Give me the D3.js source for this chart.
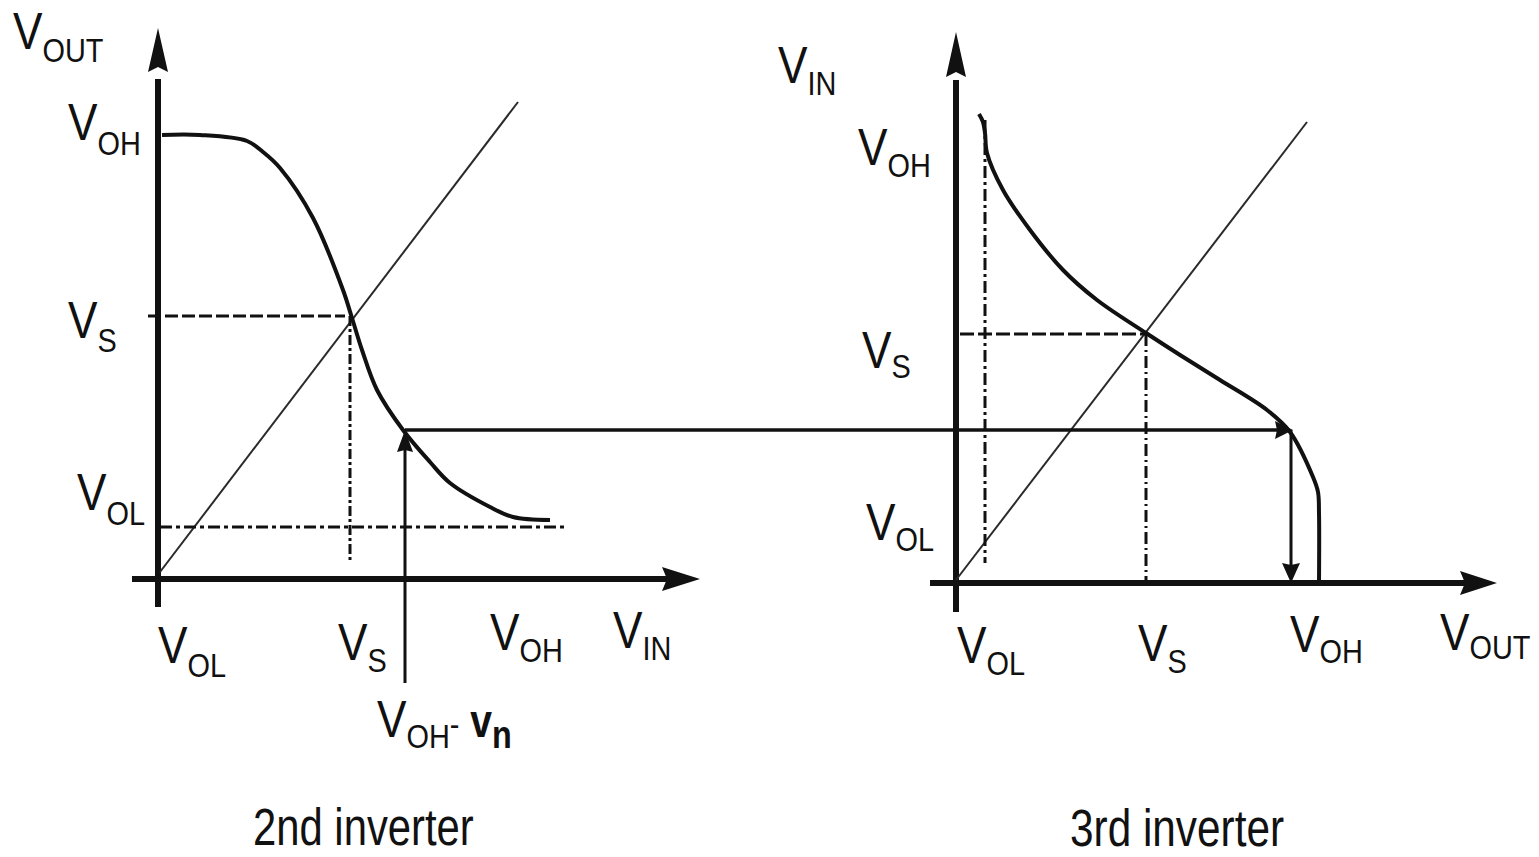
<!DOCTYPE html>
<html><head><meta charset="utf-8">
<script src="https://cdn.jsdelivr.net/npm/d3@7"></script>
<style>html,body{margin:0;background:#fff}svg{display:block}</style>
</head><body>
<svg id="c" width="1539" height="857"></svg>
<script>
// ---------- data (arbitrary voltage units) ----------
// 2nd inverter transfer characteristic: Vin -> Vout
const inv2Vin  = [0.04,0.42,0.89,1.05,1.22,1.55,1.85,1.94,2.04,2.19,2.45,2.72,2.92,3.32,3.55,3.92];
const inv2Vout = [4.44,4.44,4.38,4.27,4.11,3.61,2.89,2.61,2.29,1.89,1.49,1.17,0.96,0.72,0.62,0.59];
// 3rd inverter characteristic, plotted with swapped axes (Vout across, Vin up)
const inv3Vout = [0.23,0.27,0.29,0.31,0.47,0.74,1.07,1.41,1.90,2.24,2.64,3.11,3.34,3.57,3.62,3.63,3.63];
const inv3Vin  = [4.69,4.61,4.50,4.30,3.93,3.53,3.13,2.83,2.50,2.28,2.03,1.73,1.51,1.06,0.91,0.70,0.00];

// unity-gain lines (start, end) for each panel
const unityL = [[0.02,0.07],[3.60,4.77]];
const unityR = [[0.00,0.03],[3.51,4.61]];

// switching points and logic levels
const vsL = [1.92, 2.63];      // 2nd inverter: VS (in, out)
const volL = 0.52;             // 2nd inverter VOL level
const vnPoint = [2.47, 1.49];  // input VOH - vn and its output
const vsR = [1.90, 2.49];      // 3rd inverter: VS (out, in)
const volR = 0.29;             // 3rd inverter VOL output
const vohOutR = 3.35;          // resulting 3rd inverter output

// tick label names and positions along each axis
const leftXTicks  = ['OL','S','OH','IN'];
const leftXVals   = [0, 1.80, 3.32, 4.55];
const leftYTicks  = ['OUT','OH','S','OL'];
const leftYVals   = [5.30, 4.39, 2.41, 0.69];
const rightXTicks = ['OL','S','OH','OUT'];
const rightXVals  = [0.01, 1.82, 3.34, 4.84];
const rightYTicks = ['IN','OH','S','OL'];
const rightYVals  = [5.00, 4.18, 2.15, 0.43];
const titles = ['2nd inverter','3rd inverter'];

// ---------- scales ----------
const xL = d3.scaleLinear().domain([0, 5.4]).range([158, 698]);
const yL = d3.scaleLinear().domain([0, 5.5]).range([579, 29]);
const xR = d3.scaleLinear().domain([0, 5.4]).range([956, 1496]);
const yR = d3.scaleLinear().domain([0, 5.5]).range([583, 33]);

const svg = d3.select('#c');
const INK = '#111';
const FONT = '"Liberation Sans", Arial, Helvetica, sans-serif';
const SX = 0.85;

// ---------- helpers ----------
function arrowHead(g, tip, dir, len, half, notch) {
  const [tx, ty] = tip, [dx, dy] = dir, px = -dy, py = dx;
  const bx = tx - dx * len, by = ty - dy * len;
  const pts = [[tx, ty],
               [bx + px * half, by + py * half],
               [bx + dx * notch, by + dy * notch],
               [bx - px * half, by - py * half]];
  g.append('path').attr('d', d3.line()(pts) + 'Z').attr('fill', INK);
}

function axisLine(x1, y1, x2, y2, w) {
  svg.append('line').attr('x1', x1).attr('y1', y1).attr('x2', x2).attr('y2', y2)
    .attr('stroke', INK).attr('stroke-width', w);
}

function guide(x1, y1, x2, y2, dash) {
  svg.append('line').attr('x1', x1).attr('y1', y1).attr('x2', x2).attr('y2', y2)
    .attr('stroke', INK).attr('stroke-width', 3).attr('stroke-dasharray', dash);
}

function vLabel(x, y, sub, subDy) {
  const g = svg.append('g').attr('transform', `translate(${x},${y}) scale(${SX},1)`);
  const t = g.append('text').attr('fill', INK).attr('font-family', FONT);
  t.append('tspan').attr('font-size', 52).text('V');
  t.append('tspan').attr('font-size', 34).attr('dy', subDy).text(sub);
  return t;
}

// ---------- axes ----------
// left panel
axisLine(xL(0), 607, xL(0), yL(0) - 500, 6);
arrowHead(svg, [xL(0), 28], [0, -1], 44, 10, 5);
axisLine(132, yL(0), 668, yL(0), 6);
arrowHead(svg, [700, yL(0)], [1, 0], 38, 12, 5);
// right panel
axisLine(xR(0), 612, xR(0), 80, 6);
arrowHead(svg, [xR(0), 32], [0, -1], 45, 10, 5);
axisLine(930, yR(0), 1465, yR(0), 6);
arrowHead(svg, [1497, yR(0)], [1, 0], 37, 12, 5);

// ---------- unity-gain lines ----------
svg.append('line')
  .attr('x1', xL(unityL[0][0])).attr('y1', yL(unityL[0][1]))
  .attr('x2', xL(unityL[1][0])).attr('y2', yL(unityL[1][1]))
  .attr('stroke', '#2a2a2a').attr('stroke-width', 2);
svg.append('line')
  .attr('x1', xR(unityR[0][0])).attr('y1', yR(unityR[0][1]))
  .attr('x2', xR(unityR[1][0])).attr('y2', yR(unityR[1][1]))
  .attr('stroke', '#2a2a2a').attr('stroke-width', 2);

// ---------- guide lines ----------
guide(xL(-0.10), yL(vsL[1]), xL(vsL[0] - 0.05), yL(vsL[1]), '13,4');
guide(xL(vsL[0]), yL(vsL[1]), xL(vsL[0]), yL(0.16), '10,3,3,3');
guide(xL(0.02), yL(volL), xL(4.07), yL(volL), '12,4,4,4');

guide(xR(0.04), yR(vsR[1]), xR(vsR[0]), yR(vsR[1]), '14,4');
guide(xR(vsR[0]), yR(vsR[1]), xR(vsR[0]), yR(0.03), '12,4,2,4');
guide(xR(volR), yR(4.63), xR(volR), yR(0.20), '12,4,3,4');

// ---------- transfer curves ----------
const lineL = d3.line().x(i => xL(inv2Vin[i])).y(i => yL(inv2Vout[i])).curve(d3.curveCatmullRom.alpha(0.5));
svg.append('path').attr('d', lineL(d3.range(inv2Vin.length)))
  .attr('fill', 'none').attr('stroke', INK).attr('stroke-width', 4).attr('stroke-linejoin', 'round');
const lineR = d3.line().x(i => xR(inv3Vout[i])).y(i => yR(inv3Vin[i])).curve(d3.curveCatmullRom.alpha(0.5));
svg.append('path').attr('d', lineR(d3.range(inv3Vout.length)))
  .attr('fill', 'none').attr('stroke', INK).attr('stroke-width', 4).attr('stroke-linejoin', 'round');

// ---------- signal path arrows ----------
const px = xL(vnPoint[0]), py = yL(vnPoint[1]);
axisLine(px, 683, px, py + 18, 3);
arrowHead(svg, [px, py], [0, -1], 22, 8, 2);
const endX = xR(vohOutR);
axisLine(px, py, endX - 14, py, 3.5);
arrowHead(svg, [endX + 2, py], [1, 0], 18, 9, 2);
axisLine(endX, py, endX, yR(0) - 16, 3);
arrowHead(svg, [endX, yR(0)], [0, 1], 20, 9, 2);

// ---------- labels ----------
const leftXDy = [14, 12, 12, 12], leftXBase = [663, 660, 650, 648];
leftXTicks.forEach((s, i) => vLabel(xL(leftXVals[i]), leftXBase[i], s, leftXDy[i]));
const leftYX = [13, 68, 68, 77], leftYDy = [13, 15, 14, 15];
leftYTicks.forEach((s, i) => vLabel(leftYX[i], yL(leftYVals[i]), s, leftYDy[i]));
const rightXBase = [663, 661, 652, 650], rightXDy = [12, 12, 11, 9];
rightXTicks.forEach((s, i) => vLabel(xR(rightXVals[i]), rightXBase[i], s, rightXDy[i]));
const rightYX = [778, 858, 862, 866], rightYDy = [12, 12, 10, 11];
rightYTicks.forEach((s, i) => vLabel(rightYX[i], yR(rightYVals[i]), s, rightYDy[i]));

// VOH - vn label under the upward arrow
{
  const g = svg.append('g').attr('transform', `translate(${px - 28},737) scale(${SX},1)`);
  const t = g.append('text').attr('fill', INK).attr('font-family', FONT);
  t.append('tspan').attr('font-size', 52).text('V');
  t.append('tspan').attr('font-size', 34).attr('dy', 11).text('OH');
  t.append('tspan').attr('font-size', 34).attr('dy', -12).text('-');
  t.append('tspan').attr('font-size', 46).attr('font-weight', 'bold').attr('dy', 1).text(' v');
  t.append('tspan').attr('font-size', 38).attr('font-weight', 'bold').attr('dy', 11).text('n');
}

// panel titles
svg.append('g').attr('transform', `translate(253,845) scale(0.82,1)`)
  .append('text').attr('fill', INK).attr('font-family', FONT).attr('font-size', 51).text(titles[0]);
svg.append('g').attr('transform', `translate(1070,846) scale(0.83,1)`)
  .append('text').attr('fill', INK).attr('font-family', FONT).attr('font-size', 51).text(titles[1]);
</script>
</body></html>
